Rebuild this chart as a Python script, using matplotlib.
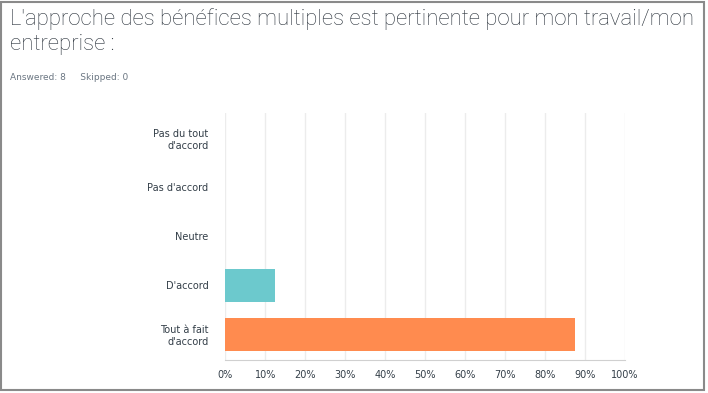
import matplotlib
matplotlib.use("Agg")
import matplotlib.pyplot as plt
from matplotlib.patches import Rectangle

categories = ["Pas du tout\nd'accord", "Pas d'accord", "Neutre", "D'accord", "Tout à fait\nd'accord"]
values = [0.0, 0.0, 0.0, 12.5, 87.5]
colors = ["#6CC9CD", "#6CC9CD", "#6CC9CD", "#6CC9CD", "#FF8B4F"]
ticks = list(range(0, 101, 10))
tick_labels = [f"{t}%" for t in ticks]

title = "L'approche des bénéfices multiples est pertinente pour mon travail/mon\nentreprise :"
subtitle = "Answered: 8     Skipped: 0"

fig = plt.figure(figsize=(7.08, 3.93), dpi=100)
fig.patches.append(Rectangle((0.002, 0.008), 0.993, 0.988, transform=fig.transFigure,
                             fill=False, edgecolor="#8a8a8a", linewidth=1.5))

ax = fig.add_axes([0.318, 0.084, 0.565, 0.629])
y = list(range(len(categories)))
ax.barh(y, values, height=0.68, color=colors, zorder=3)
ax.set_ylim(4.52, -0.52)
ax.set_xlim(0, 100)
ax.set_xticks(ticks)
ax.set_xticklabels(tick_labels, fontsize=7, color="#333e48")
ax.set_yticks(y)
ax.set_yticklabels(categories, fontsize=7, color="#333e48")
ax.tick_params(axis="both", length=0, pad=7)
ax.tick_params(axis="y", pad=12)
ax.grid(axis="x", color="#ececec", linewidth=1, zorder=0)
for side in ["top", "right", "left"]:
    ax.spines[side].set_visible(False)
ax.spines["bottom"].set_color("#d0d0d0")

fig.text(0.014, 0.978, title, fontsize=15.9, color="#2b333c", va="top", ha="left",
         family=["Roboto", "DejaVu Sans"], weight="light", linespacing=1.2)
fig.text(0.014, 0.803, subtitle, fontsize=6.5, color="#6b7682", va="center", ha="left")

fig.savefig("out.png", dpi=100)
